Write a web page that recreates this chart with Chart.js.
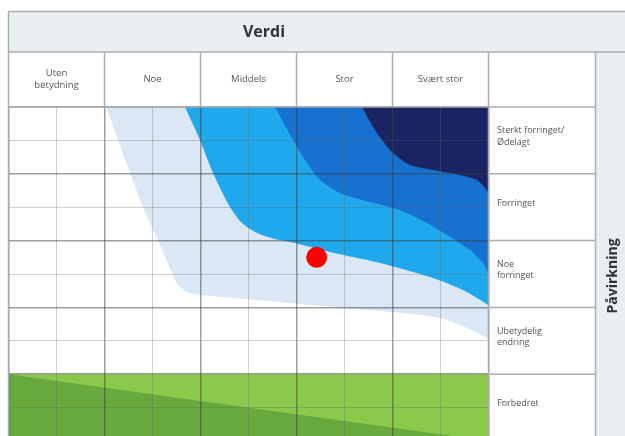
<!DOCTYPE html>
<html>
<head>
<meta charset="utf-8">
<script src="https://cdn.jsdelivr.net/npm/chart.js@4/dist/chart.umd.min.js"></script>
<style>
  html, body { margin: 0; padding: 0; background: #ffffff; }
  #wrap { width: 625px; height: 436px; position: relative; overflow: hidden; }
</style>
</head>
<body>
<div id="wrap"><canvas id="c" width="625" height="436"></canvas></div>
<script>
// ---------- text ----------
const headerTitle = "Verdi";
const sideTitle = "Påvirkning";
const columnLabels = [["Uten", "betydning"], ["Noe"], ["Middels"], ["Stor"], ["Svært stor"]];
// rows listed from the bottom row (0..1) upward
const rowLabels = [["Forbedret"], ["Ubetydelig", "endring"], ["Noe", "forringet"], ["Forringet"], ["Sterkt forringet/", "Ødelagt"]];

// ---------- grid ticks ----------
const xGridTicks = [0, 0.5, 1, 1.5, 2, 2.5, 3, 3.5, 4, 4.5, 5];
const yGridTicks = [0.5, 1, 1.5, 2, 2.5, 3, 3.5, 4, 4.5, 5];
const xRange = [0, 5];
const yRange = [0.075, 5];

// ---------- fan bands (closed outlines, value units) ----------
const lightBlueX = [0.90, 0.94, 1.016, 1.266, 1.401, 1.557, 1.703, 1.766, 1.859, 1.995, 2.234, 2.932, 3.484, 3.995, 4.495, 4.776, 4.984, 5.15, 5.6, 5.6];
const lightBlueY = [5.6, 5.2, 5.0, 4.012, 3.503, 3.009, 2.515, 2.335, 2.231, 2.186, 2.156, 2.066, 1.991, 1.931, 1.841, 1.692, 1.542, 1.35, 1.35, 5.6];

const midBlueX = [1.76, 1.78, 1.839, 1.995, 2.130, 2.307, 2.432, 2.589, 2.776, 2.984, 3.349, 3.870, 4.391, 4.734, 4.995, 5.15, 5.6, 5.6];
const midBlueY = [5.6, 5.2, 5.0, 4.506, 4.012, 3.503, 3.263, 3.114, 3.024, 2.964, 2.829, 2.665, 2.455, 2.260, 2.036, 1.85, 1.85, 5.6];

const blueX = [2.66, 2.70, 2.776, 2.964, 3.109, 3.245, 3.453, 3.766, 4.078, 4.359, 4.599, 4.807, 4.943, 4.995, 5.05, 5.6, 5.6];
const blueY = [5.6, 5.2, 5.0, 4.506, 4.162, 3.907, 3.713, 3.578, 3.458, 3.263, 3.054, 2.859, 2.665, 2.515, 2.35, 2.35, 5.6];

const navyX = [3.58, 3.62, 3.682, 3.838, 4.005, 4.182, 4.422, 4.703, 4.880, 4.963, 4.995, 5.03, 5.6, 5.6];
const navyY = [5.6, 5.2, 5.0, 4.611, 4.311, 4.132, 4.057, 3.982, 3.907, 3.787, 3.713, 3.6, 3.6, 5.6];

// ---------- "Forbedret" row ----------
const lightGreenX = [0, 5, 5, 0];
const lightGreenY = [1, 1, -0.3, -0.3];
const darkGreenX = [0, 5, 5, 0];
const darkGreenY = [1, 0, -0.3, -0.3];

// ---------- assessed point ----------
const pointX = [3.21];
const pointY = [2.75];

// ---------- styles ----------
const colors = {
  lightBlue: "#dae7f5",
  midBlue: "#1fa8eb",
  blue: "#1671d0",
  navy: "#1b2463",
  lightGreen: "#8bc94a",
  darkGreen: "#68a93e",
  point: "#ff0000",
  band: "#e9eff1",
  frame: "#a9aeb0",
  text: "#555555",
  title: "#333333"
};

function pts(xs, ys) { return xs.map((x, i) => ({ x: x, y: ys[i] })); }
function shape(xs, ys, color, order) {
  return {
    data: pts(xs, ys),
    showLine: true,
    fill: "shape",
    backgroundColor: color,
    borderColor: color,
    borderWidth: 0,
    pointRadius: 0,
    tension: 0.25,
    order: order
  };
}

const layoutPx = { titleTop: 11.5, headerTop: 52, labelRight: 595.5 };
const wantArea = { left: 8.5, top: 107, right: 488.5, bottom: 436 };

const tablePlugin = {
  id: "tableFrame",
  beforeDraw(chart) {
    const { ctx, chartArea: a, width: W, height: H } = chart;
    ctx.save();
    ctx.fillStyle = colors.band;
    ctx.fillRect(a.left, layoutPx.titleTop, W - a.left, layoutPx.headerTop - layoutPx.titleTop);
    ctx.fillRect(layoutPx.labelRight, layoutPx.headerTop, W - layoutPx.labelRight, H - layoutPx.headerTop);
    ctx.restore();
  },
  afterDraw(chart) {
    const { ctx, chartArea: a, width: W, height: H } = chart;
    const xs = chart.scales.x, ys = chart.scales.y;
    const X = v => xs.getPixelForValue(v), Y = v => ys.getPixelForValue(v);
    ctx.save();
    ctx.strokeStyle = colors.frame;
    ctx.lineWidth = 1.5;
    const line = (x1, y1, x2, y2) => { ctx.beginPath(); ctx.moveTo(x1, y1); ctx.lineTo(x2, y2); ctx.stroke(); };
    line(a.left, layoutPx.titleTop, W, layoutPx.titleTop);
    line(a.left, layoutPx.headerTop, W, layoutPx.headerTop);
    line(a.left, a.top, layoutPx.labelRight, a.top);
    line(a.left, layoutPx.titleTop, a.left, H);
    for (let c = 1; c <= 4; c++) line(X(c), layoutPx.headerTop, X(c), a.top);
    line(X(5), layoutPx.headerTop, X(5), H);
    line(layoutPx.labelRight, layoutPx.headerTop, layoutPx.labelRight, H);
    for (let r = 1; r <= 4; r++) line(X(5), Y(r), layoutPx.labelRight, Y(r));

    // title
    ctx.fillStyle = colors.title;
    ctx.font = "bold 16px 'Open Sans', sans-serif";
    ctx.textAlign = "center";
    ctx.textBaseline = "middle";
    ctx.fillText(headerTitle, 264, (layoutPx.titleTop + layoutPx.headerTop) / 2 + 1);

    // column labels
    ctx.fillStyle = colors.text;
    ctx.font = "9.5px 'Open Sans', sans-serif";
    const hMid = (layoutPx.headerTop + a.top) / 2;
    columnLabels.forEach((lines, i) => {
      const cx = X(i + 0.5);
      const n = lines.length, lh = 12.5;
      lines.forEach((t, j) => ctx.fillText(t, cx, hMid + (j - (n - 1) / 2) * lh));
    });

    // row labels
    ctx.font = "9px 'Open Sans', sans-serif";
    ctx.textAlign = "left";
    rowLabels.forEach((lines, i) => {
      const cy = (Y(i) + Y(i + 1)) / 2 - 4;
      const n = lines.length, lh = 11.5;
      lines.forEach((t, j) => ctx.fillText(t, X(5) + 8.5, cy + (j - (n - 1) / 2) * lh));
    });

    // side title
    ctx.fillStyle = colors.title;
    ctx.font = "bold 14px 'Open Sans', sans-serif";
    ctx.translate(613, 276);
    ctx.rotate(-Math.PI / 2);
    ctx.textAlign = "center";
    ctx.textBaseline = "middle";
    ctx.fillText(sideTitle, 0, 0);
    ctx.restore();
  }
};

const isMajor = ctx => ctx.tick && Math.abs(ctx.tick.value % 1) < 1e-9;
const gridColor = ctx => isMajor(ctx) ? "rgba(60,60,60,0.5)" : "rgba(100,100,100,0.3)";
const gridWidth = ctx => isMajor(ctx) ? 1.5 : 1;

const padding = { left: wantArea.left, right: 625 - wantArea.right, top: wantArea.top, bottom: 436 - wantArea.bottom };

const chart = new Chart(document.getElementById("c"), {
  type: "line",
  data: {
    datasets: [
      { data: pts(pointX, pointY), showLine: false, pointRadius: 10.5, pointBackgroundColor: colors.point, pointBorderWidth: 0, backgroundColor: colors.point, order: 0 },
      shape(navyX, navyY, colors.navy, 1),
      shape(blueX, blueY, colors.blue, 2),
      shape(midBlueX, midBlueY, colors.midBlue, 3),
      shape(lightBlueX, lightBlueY, colors.lightBlue, 4),
      Object.assign(shape(darkGreenX, darkGreenY, colors.darkGreen, 5), { tension: 0 }),
      Object.assign(shape(lightGreenX, lightGreenY, colors.lightGreen, 6), { tension: 0 })
    ]
  },
  options: {
    responsive: false,
    maintainAspectRatio: false,
    animation: false,
    events: [],
    layout: { autoPadding: false, padding: padding },
    plugins: { legend: { display: false }, tooltip: { enabled: false }, title: { display: false } },
    scales: {
      x: {
        type: "linear", min: xRange[0], max: xRange[1],
        afterBuildTicks: s => { s.ticks = xGridTicks.map(v => ({ value: v })); },
        afterFit: s => { s.height = 0; },
        ticks: { display: false },
        border: { display: false },
        grid: { z: 1, drawTicks: false, color: gridColor, lineWidth: gridWidth }
      },
      y: {
        type: "linear", min: yRange[0], max: yRange[1],
        afterBuildTicks: s => { s.ticks = yGridTicks.map(v => ({ value: v })); },
        afterFit: s => { s.width = 0; },
        ticks: { display: false },
        border: { display: false },
        grid: { z: 1, drawTicks: false, color: gridColor, lineWidth: gridWidth }
      }
    }
  },
  plugins: [tablePlugin]
});

// align the plot area with the table frame
const ca = chart.chartArea;
const adj = {
  left: padding.left + (wantArea.left - ca.left),
  top: padding.top + (wantArea.top - ca.top),
  right: padding.right + (ca.right - wantArea.right),
  bottom: padding.bottom + (ca.bottom - wantArea.bottom)
};
if (Math.abs(adj.left - padding.left) + Math.abs(adj.top - padding.top) + Math.abs(adj.right - padding.right) + Math.abs(adj.bottom - padding.bottom) > 0.1) {
  chart.options.layout.padding = adj;
  chart.update();
}
</script>
</body>
</html>
